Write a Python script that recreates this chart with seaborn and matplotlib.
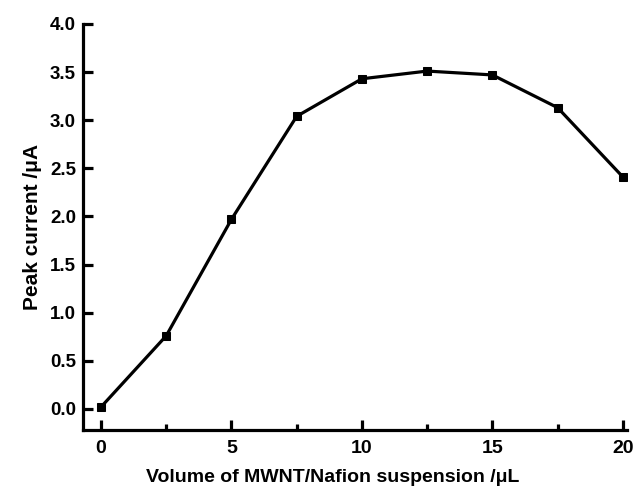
import numpy as np
import pandas as pd
import seaborn as sns
import matplotlib.pyplot as plt

volume = [0, 2.5, 5, 7.5, 10, 12.5, 15, 17.5, 20]
current = [0.02, 0.76, 1.97, 3.04, 3.43, 3.51, 3.47, 3.13, 2.41]
yticks = [0.0, 0.5, 1.0, 1.5, 2.0, 2.5, 3.0, 3.5, 4.0]

df = pd.DataFrame({"volume": volume, "current": current})

sns.set_style("ticks")
plt.rcParams['font.family'] = ['Liberation Sans', 'DejaVu Sans']
plt.rcParams['font.weight'] = 'bold'
plt.rcParams['text.color'] = 'black'
plt.rcParams['axes.labelcolor'] = 'black'

fig = plt.figure(figsize=(6.36, 4.88), dpi=100)
ax = fig.add_axes([0.1305, 0.119, 0.855, 0.832])

sns.lineplot(data=df, x="volume", y="current", ax=ax, color="black", lw=2.3,
             marker="s", markersize=6, markeredgecolor="black")

ax.set_xlim(-0.69, 20.15)
ax.set_ylim(-0.218, 4.0)
ax.set_xticks([0, 5, 10, 15, 20])
ax.set_xticks([2.5, 7.5, 12.5, 17.5], minor=True)
ax.set_yticks(yticks)
ax.set_yticklabels(["%.1f" % v for v in yticks])

for s in ["top", "right"]:
    ax.spines[s].set_visible(False)
for s in ["left", "bottom"]:
    ax.spines[s].set_linewidth(2.3)
    ax.spines[s].set_color("black")

ax.tick_params(which="major", direction="in", length=7, width=2.3, colors="black", labelcolor="black")
ax.tick_params(which="minor", direction="in", length=4, width=2.3, colors="black")
ax.tick_params(axis="y", labelsize=13.5, pad=5)
ax.tick_params(axis="x", labelsize=14, pad=7)

ax.set_xlabel("Volume of MWNT/Nafion suspension /μL", fontsize=14, fontweight="bold")
ax.set_ylabel("Peak current /μA", fontsize=15, fontweight="bold", labelpad=6)
ax.xaxis.set_label_coords(0.46, -0.097)

fig.savefig("out.png", dpi=100)
